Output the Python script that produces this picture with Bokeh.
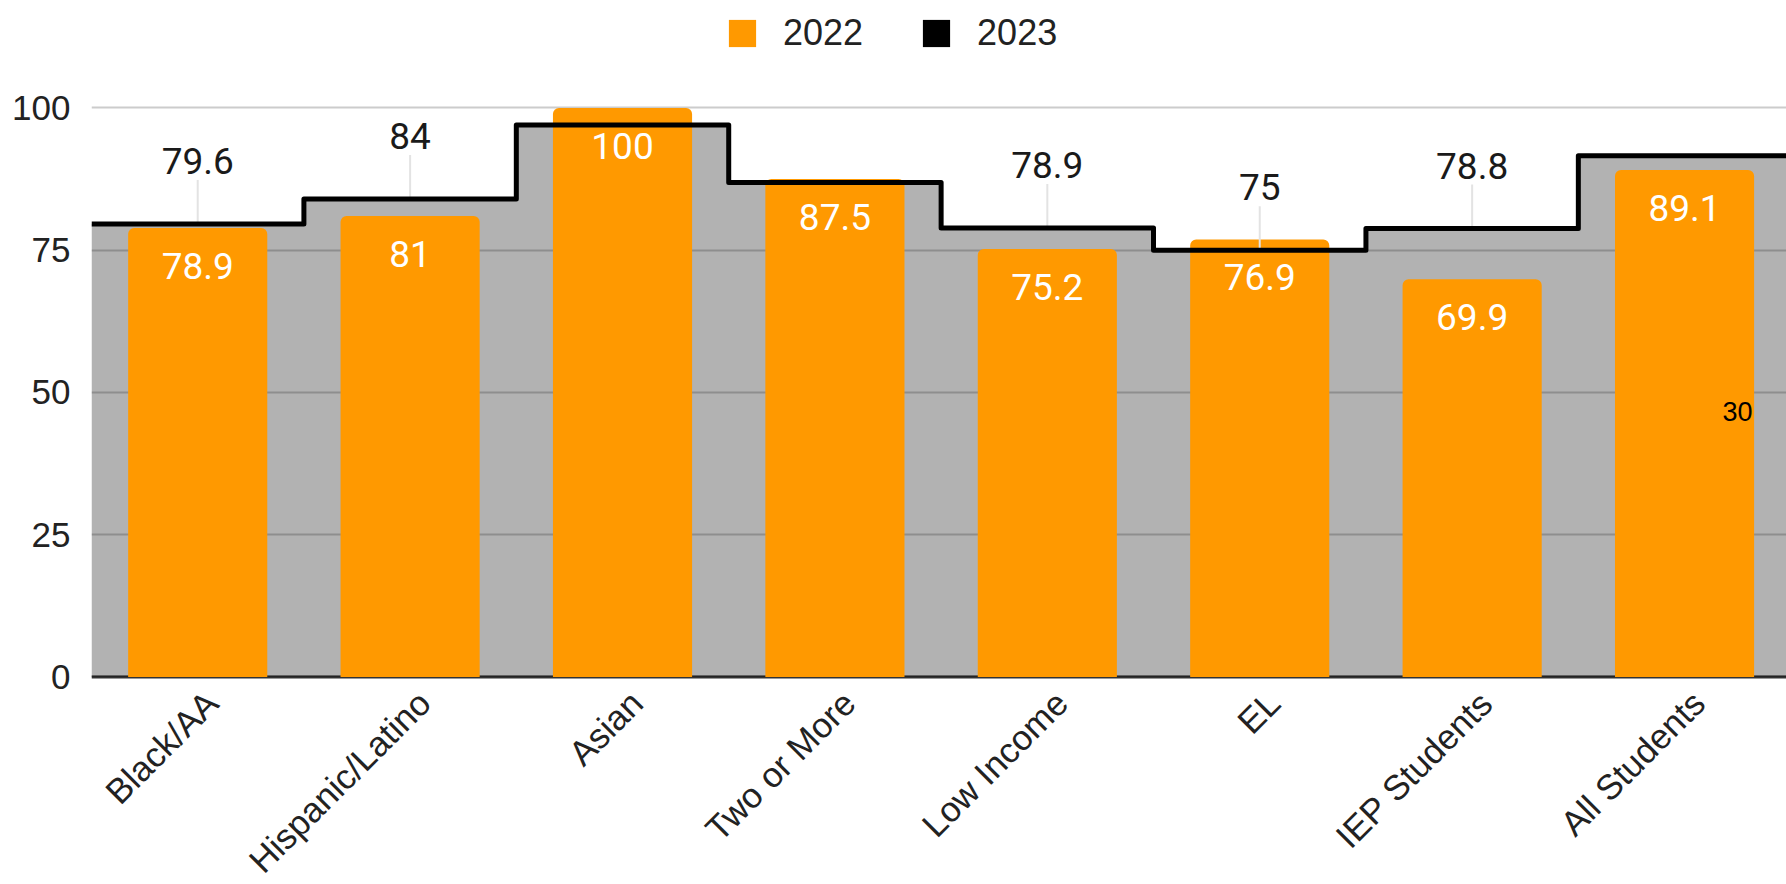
import math
from bokeh.plotting import figure
from bokeh.models import (ColumnDataSource, Range1d, FixedTicker, Legend, LegendItem, Span)
from bokeh.core.properties import value
from bokeh.embed import file_html
from bokeh.resources import INLINE

# ---- data ----
categories = ["Black/AA", "Hispanic/Latino", "Asian", "Two or More",
              "Low Income", "EL", "IEP Students", "All Students"]
values_2022 = [78.9, 81, 100, 87.5, 75.2, 76.9, 69.9, 89.1]
values_2023 = [79.6, 84, 97.0, 86.9, 78.9, 75, 78.8, 91.6]
labelled_2023 = [True, True, False, False, True, True, True, False]
y_ticks = [0, 25, 50, 75, 100]
note_text = ["30"]
note_category = ["All Students"]
note_y = [46.7]

ORANGE = "#ff9900"
AXIS_FONT = "Liberation Sans"
LABEL_FONT = "Roboto"

n = len(categories)
centers = [i + 0.5 for i in range(n)]
fmt = lambda v: f"{v:g}"

W, H = 1786, 884
p = figure(width=W, height=H, output_backend="svg", toolbar_location=None,
           x_range=Range1d(0, 7.98), y_range=Range1d(-36.47, 118.89),
           min_border_left=91, min_border_right=0, min_border_top=0, min_border_bottom=0,
           x_axis_location=None)
p.outline_line_color = None
p.background_fill_color = "white"
p.xgrid.visible = False
p.ygrid.ticker = FixedTicker(ticks=y_ticks)
p.ygrid.grid_line_color = "#cccccc"
p.ygrid.grid_line_width = 2

ax = p.yaxis[0]
ax.ticker = FixedTicker(ticks=y_ticks)
ax.axis_line_color = None
ax.major_tick_line_color = None
ax.minor_tick_line_color = None
ax.major_tick_in = 0
ax.major_tick_out = 0
ax.major_label_standoff = 21
ax.major_label_text_font = AXIS_FONT
ax.major_label_text_font_size = "35px"
ax.major_label_text_color = "#222222"

# baseline at zero
p.add_layout(Span(location=0, dimension="width", line_color="#333333",
                  line_width=3, level="underlay"))

# 2023 stepped area (translucent black) and its step line
edges = list(range(n + 1))
step_y = values_2023 + [values_2023[-1]]
step_src = ColumnDataSource(dict(x=edges, y=step_y, y0=[0] * (n + 1)))
p.varea_step(x="x", y1="y0", y2="y", step_mode="after", source=step_src,
             fill_color="black", fill_alpha=0.3)

# 2022 bars
bar_src = ColumnDataSource(dict(x=centers, top=values_2022,
                                lab=[fmt(v) for v in values_2022]))
bars = p.vbar(x="x", top="top", bottom=0, width=0.655, source=bar_src,
              fill_color=ORANGE, line_color=None, border_radius=(6, 6, 0, 0))

# leader lines for 2023 labels
lab_x = [c for c, s in zip(centers, labelled_2023) if s]
lab_y = [v for v, s in zip(values_2023, labelled_2023) if s]
lab_t = [fmt(v) for v, s in zip(values_2023, labelled_2023) if s]
lab_src = ColumnDataSource(dict(x=lab_x, y=lab_y, t=lab_t))
p.ray(x="x", y="y", length=44, length_units="screen", angle=math.pi / 2,
      source=lab_src, line_color="#e3e3e3", line_width=2)

step_line = p.step(x="x", y="y", mode="after", source=step_src,
                   line_color="black", line_width=5, line_join="round")

# labels
p.text(x="x", y="top", text="lab", source=bar_src, text_color="white",
       text_font=value(LABEL_FONT), text_font_size="37px",
       text_align="center", text_baseline="middle", y_offset=38)
p.text(x="x", y="y", text="t", source=lab_src, text_color="#1a1a1a",
       text_font=value(LABEL_FONT), text_font_size="37px",
       text_align="center", text_baseline="middle", y_offset=-63)

# category labels (rotated)
cat_src = ColumnDataSource(dict(x=centers, y=[0] * n, t=categories))
p.text(x="x", y="y", text="t", source=cat_src, angle=math.pi / 4,
       text_color="#222222", text_font=value(AXIS_FONT), text_font_size="35px",
       text_align="right", text_baseline="middle", x_offset=14, y_offset=20)

# stray note
note_x = [centers[categories.index(c)] for c in note_category]
p.text(x=note_x, y=note_y, text=note_text, text_color="black",
       text_font=value(AXIS_FONT), text_font_size="27px",
       text_align="center", text_baseline="middle", x_offset=53)

# legend (2023 swatch uses a zero-height proxy bar)
proxy = p.vbar(x=[centers[0]], top=[0], bottom=0, width=0.5,
               fill_color="black", line_color=None)
legend = Legend(items=[LegendItem(label="2022", renderers=[bars]),
                       LegendItem(label="2023", renderers=[proxy])],
                orientation="horizontal", location=(634, 830),
                glyph_width=34, glyph_height=34, label_standoff=24, spacing=56,
                padding=0, margin=0, border_line_alpha=0, background_fill_alpha=0,
                label_text_font=AXIS_FONT, label_text_font_size="36px",
                label_text_color="#222222")
p.add_layout(legend)

open("out.html", "w").write(file_html(p, INLINE))
